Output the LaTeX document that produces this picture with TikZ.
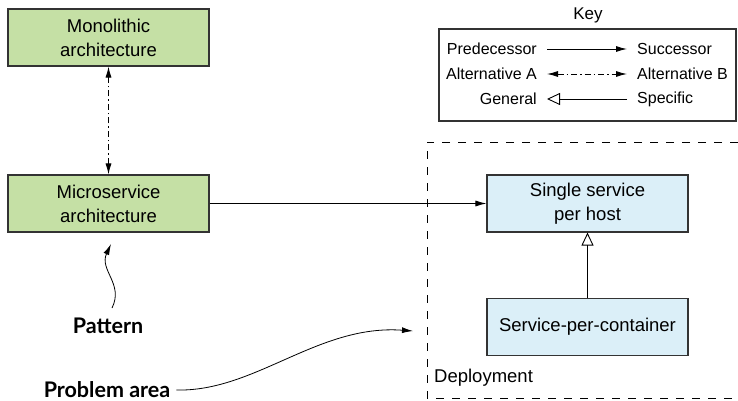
\documentclass[tikz,border=0pt]{standalone}
\usepackage{fontspec}
\setmainfont{Liberation Sans}
\newfontfamily\calloutfont{Lato}
\usetikzlibrary{arrows.meta}
\definecolor{patgreen}{HTML}{C5E0A5}
\definecolor{depblue}{HTML}{DBEFF8}
\definecolor{edgegray}{HTML}{333333}

\begin{document}
\begin{tikzpicture}[x=1pt, y=-1pt,
	box/.style={draw=edgegray, line width=1.1pt, minimum width=201pt, minimum height=57pt, inner sep=0pt, align=center, font=\fontsize{18.5}{24}\selectfont},
	patbox/.style={box, fill=patgreen},
	depbox/.style={box, fill=depblue},
	keytext/.style={font=\fontsize{16}{18}\selectfont, inner sep=0pt},
	callout/.style={font=\calloutfont\bfseries\fontsize{21.5}{24}\selectfont, inner sep=0pt},
	succ/.style={line width=0.9pt, -{Latex[length=11pt,width=6pt]}},
	alt/.style={line width=0.9pt, {Latex[length=11pt,width=6pt]}-{Latex[length=11pt,width=6pt]}, dash pattern=on 6pt off 3pt on 1.5pt off 3pt},
	spec/.style={line width=0.9pt, -{Triangle[open,length=13pt,width=12pt]}},
	curly/.style={line width=0.8pt, -{Latex[length=11pt,width=6pt]}}]
	%%%%% START %%%%%
	\useasboundingbox (0, 0) rectangle (738, 401);

	% deployment area, open on the right
	\draw[line width=1pt, dash pattern=on 8pt off 8pt] (738, 142) -- (427, 142) -- (427, 398) -- (738, 398);
	\node[font=\fontsize{18.5}{20}\selectfont, anchor=west, inner sep=0pt] (deploy) at (434, 378) {Deployment};

	% patterns
	\node[patbox] (monolith) at (108.5, 37.5) {Monolithic\\architecture};
	\node[patbox] (micro) at (108.5, 203.5) {Microservice\\architecture};
	\node[depbox] (single) at (587.5, 203.5) {Single service\\per host};
	\node[depbox] (container) at (587.5, 327) {Service-per-container};

	\draw[alt] (micro) -- (monolith);
	\draw[succ] (micro) -- (single);
	\draw[spec] (container) -- (single);

	% callouts
	\node[callout] (pattern) at (108, 326) {Pattern};
	\node[callout] (problem) at (107, 390) {Problem area};
	\coordinate (patterntip) at (111, 244);
	\coordinate (problemtip) at (413, 331);
	\draw[curly] (112, 308) .. controls (124, 284) and (99, 270) .. (patterntip);
	\draw[curly] ([xshift=6pt]problem.east) .. controls (255, 392) and (318, 324) .. (problemtip);

	% key
	\node[font=\fontsize{17}{20}\selectfont, inner sep=0pt] (keytitle) at (588, 15) {Key};
	\draw[line width=1.1pt, draw=edgegray] (439, 29) rectangle (736, 121);
	\node[keytext, anchor=east] (pred) at (537, 49) {Predecessor};
	\node[keytext, anchor=west] (succ) at (637, 49) {Successor};
	\node[keytext, anchor=east] (altA) at (537, 74) {Alternative A};
	\node[keytext, anchor=west] (altB) at (637, 74) {Alternative B};
	\node[keytext, anchor=east] (general) at (537, 99) {General};
	\node[keytext, anchor=west] (specific) at (637, 99) {Specific};
	\draw[succ] ([xshift=10pt]pred.east) -- ([xshift=-10pt]succ.west);
	\draw[alt] ([xshift=10pt]altA.east) -- ([xshift=-10pt]altB.west);
	\draw[spec] ([xshift=-10pt]specific.west) -- ([xshift=10pt]general.east);
	%%%%% END %%%%%
\end{tikzpicture}
\end{document}
